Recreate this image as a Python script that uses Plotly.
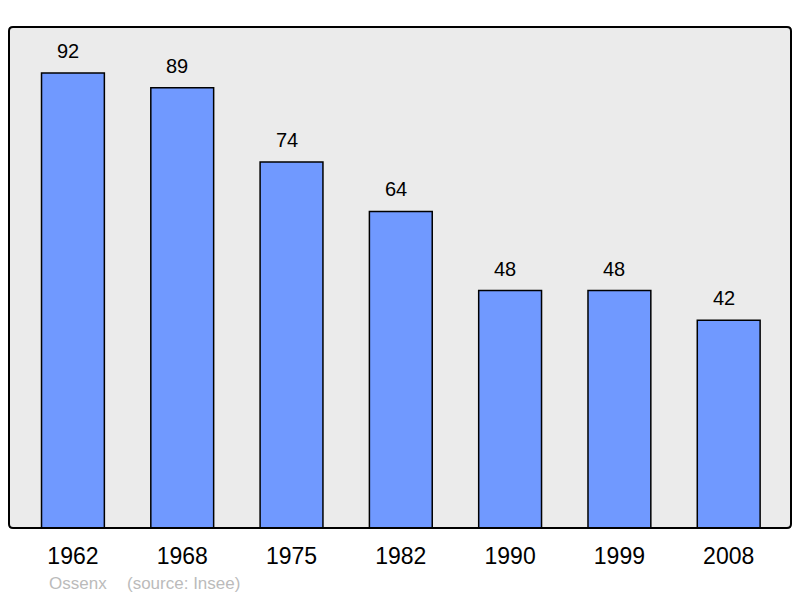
import plotly.graph_objects as go

years = ["1962", "1968", "1975", "1982", "1990", "1999", "2008"]
population = [92, 89, 74, 64, 48, 48, 42]
commune = "Ossenx"
source = "(source: Insee)"

W, H = 800, 598
L, R, T, B = 9, 9, 27, 70
pw, ph = W - L - R, H - T - B

fig = go.Figure()
fig.add_trace(go.Bar(
    x=list(range(len(years))), y=population,
    width=0.575,
    marker=dict(color="#7099ff", line=dict(color="#000000", width=1.5)),
    hoverinfo="skip",
))

for i, v in enumerate(population):
    fig.add_annotation(x=i, y=v, text=str(v), showarrow=False,
                       yanchor="bottom", yshift=9, xshift=-5,
                       font=dict(family="Liberation Sans, Arial", size=20, color="#000"))

def px(x):
    return (x - L) / pw

def py(y):
    return (H - B - y) / ph

fig.add_annotation(xref="paper", yref="paper", x=px(47), y=py(583),
                   text=commune, showarrow=False, xanchor="left", yanchor="middle",
                   font=dict(family="Liberation Sans, Arial", size=17, color="#bbbbbb"))
fig.add_annotation(xref="paper", yref="paper", x=px(125), y=py(583),
                   text=source, showarrow=False, xanchor="left", yanchor="middle",
                   font=dict(family="Liberation Sans, Arial", size=17, color="#bbbbbb"))

# rounded border
r = 4
x0, x1, y0, y1 = L, W - R, T, H - B
def P(x, y):
    return f"{px(x)} {py(y)}"
path = (f"M {P(x0 + r, y0)} L {P(x1 - r, y0)} Q {P(x1, y0)} {P(x1, y0 + r)} "
        f"L {P(x1, y1 - r)} Q {P(x1, y1)} {P(x1 - r, y1)} "
        f"L {P(x0 + r, y1)} Q {P(x0, y1)} {P(x0, y1 - r)} "
        f"L {P(x0, y0 + r)} Q {P(x0, y0)} {P(x0 + r, y0)} Z")
fig.add_shape(type="path", xref="paper", yref="paper", path=path,
              line=dict(color="#000", width=2), layer="above")

fig.update_layout(
    width=W, height=H,
    margin=dict(l=L, r=R, t=T, b=B),
    paper_bgcolor="#ffffff", plot_bgcolor="#ebebeb",
    showlegend=False,
    xaxis=dict(tickmode="array", tickvals=list(range(len(years))), ticktext=years,
               range=[-0.585, 6.57], showgrid=False, zeroline=False,
               ticks="outside", ticklen=7, tickcolor="rgba(0,0,0,0)",
               tickfont=dict(family="Liberation Sans, Arial", size=23, color="#000"),
               fixedrange=True),
    yaxis=dict(range=[0, 101.3], showgrid=False, zeroline=False,
               showticklabels=False, fixedrange=True),
)
fig.write_html("out.html", config={"displayModeBar": False},
               post_script="document.body.style.margin='0';document.body.style.overflow='hidden';")
